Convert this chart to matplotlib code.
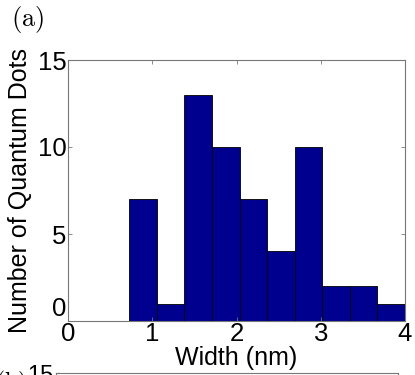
import matplotlib
matplotlib.use('Agg')
import matplotlib.pyplot as plt

plt.rcParams['font.family'] = ['Liberation Sans', 'DejaVu Sans']
plt.rcParams['mathtext.fontset'] = 'cm'

# histogram of quantum dot widths
bin_edges = [0.727, 1.054, 1.382, 1.709, 2.036, 2.364, 2.691, 3.018, 3.345, 3.673, 4.0]
counts = [7, 1, 13, 10, 7, 4, 10, 2, 2, 1]
x_ticks = [0, 1, 2, 3, 4]
y_ticks = [0, 5, 10, 15]

fig = plt.figure(figsize=(4.15, 3.75), dpi=100)
ax = fig.add_axes([0.164, 0.144, 0.812, 0.696])

ax.hist(bin_edges[:-1], bins=bin_edges, weights=counts,
        color='#00008f', edgecolor='#000000', linewidth=0.6)

ax.set_xlim(0, 4)
ax.set_ylim(0, 15)
ax.set_xticks(x_ticks)
ax.set_yticks(y_ticks)
ax.tick_params(direction='in', length=3, width=0.6, color='#777777',
               top=True, right=True, labelsize=18.5, pad=1)
for s in ax.spines.values():
    s.set_color('#777777')
    s.set_linewidth(0.8)
# matlab puts the y "0" just above the corner
ax.get_yticklabels()[0].set_verticalalignment('bottom')
ax.set_xlabel('Width (nm)', fontsize=18, labelpad=0)
ax.set_ylabel('Number of Quantum Dots', fontsize=18, labelpad=4)

fig.text(0.026, 0.99, r'$\mathrm{(a)}$', fontsize=19, va='top', ha='left')

# top of the next panel, mostly cut off
ax2 = fig.add_axes([0.135, 0.0053 - 0.7, 0.824, 0.7])
ax2.set_xlim(0, 4)
ax2.set_ylim(0, 15)
ax2.set_xticks([])
ax2.set_yticks([15])
ax2.tick_params(direction='in', length=3, color='#777777', labelsize=17, pad=2)
for s in ax2.spines.values():
    s.set_color('#777777')
    s.set_linewidth(0.8)
fig.text(-0.012, 0.016, r'$\mathrm{(b)}$', fontsize=17, va='top', ha='left')

fig.savefig('out.png', dpi=100)
